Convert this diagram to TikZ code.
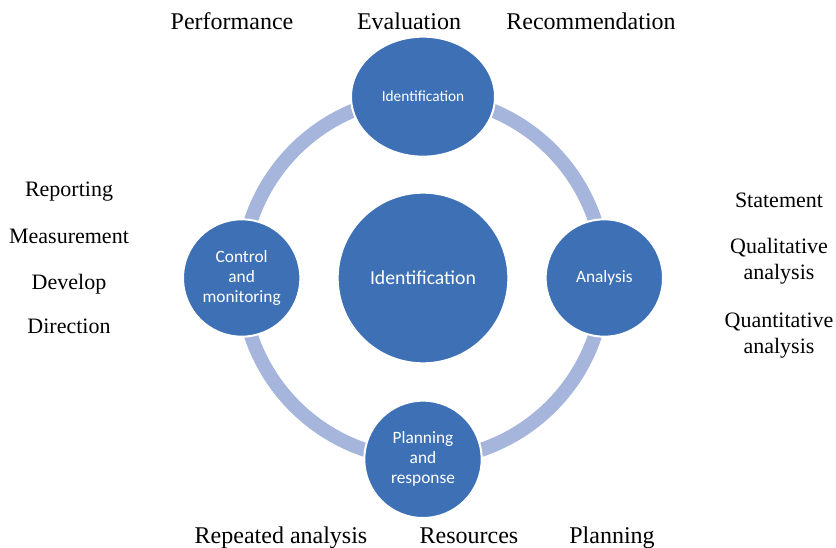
\documentclass[tikz,border=0pt]{standalone}
\usepackage{fontspec}
\setmainfont{Liberation Serif}
\newfontfamily\discfont{Carlito}
\usetikzlibrary{shapes.geometric,positioning}
\definecolor{ringblue}{HTML}{A6B5DB}
\definecolor{discblue}{HTML}{3E70B6}
\begin{document}
\begin{tikzpicture}[
x=0.75pt, y=-0.75pt,
node distance = 136pt,
disc/.style = {circle, fill=discblue, draw=white, line width=1.5pt, minimum size=88pt,
  inner sep=0pt, text=white, align=center, font=\discfont\fontsize{13}{15}\selectfont},
toplbl/.style = {anchor=base, font=\fontsize{18}{21}\selectfont},
sidelbl/.style = {align=center, font=\fontsize{16.5}{19.5}\selectfont},
]
\useasboundingbox (0,0) rectangle (836,548);
\node[disc, minimum size=128pt, font=\discfont\fontsize{14.8}{17}\selectfont] (core) at (423,278) {Identification};
\draw[ringblue, line width=10.5pt] (core.center) circle (136pt);
\node[disc, ellipse, minimum width=108pt, minimum height=90pt, font=\discfont\fontsize{11.5}{14}\selectfont, above of = core] (ident) {Identification};
\node[disc, right of = core] (anal) {Analysis};
\node[disc, below of = core] (plan) {Planning\\and\\response};
\node[disc, left of = core] (ctrl) {Control\\and\\monitoring};

\node[toplbl] (perf) at (232,30) {Performance};
\node[toplbl] (eval) at (409,30) {Evaluation};
\node[toplbl] (reco) at (591,30) {Recommendation};

\node[sidelbl, anchor=base] (stat) at (779,208) {Statement};
\node[sidelbl] (qual) at (779,261) {Qualitative\\analysis};
\node[sidelbl] (quan) at (779,336) {Quantitative\\analysis};

\node[toplbl] (rep) at (281,544) {Repeated analysis};
\node[toplbl] (res) at (469,544) {Resources};
\node[toplbl] (pln) at (612,544) {Planning};

\node[sidelbl, anchor=base] (rpt) at (69,197) {Reporting};
\node[sidelbl, anchor=base] (meas) at (69,244) {Measurement};
\node[sidelbl, anchor=base] (dev) at (69,290) {Develop};
\node[sidelbl, anchor=base] (dir) at (69,334) {Direction};

\end{tikzpicture}
\end{document}
